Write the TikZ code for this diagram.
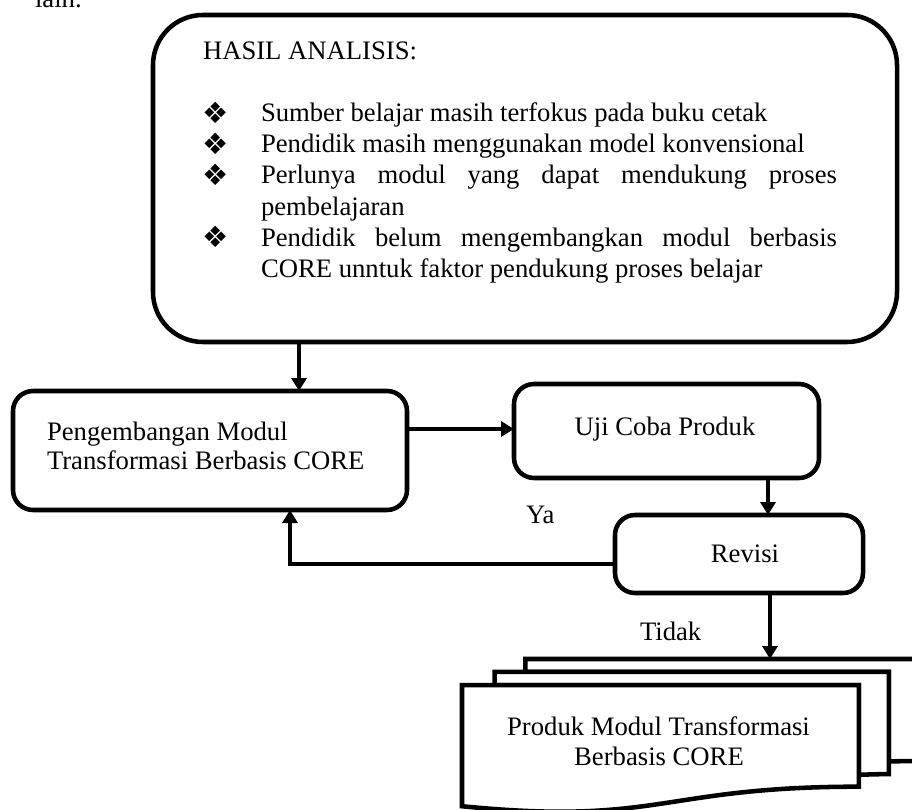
\documentclass[tikz,border=0pt]{standalone}
\usepackage{fontspec}
\setmainfont{Liberation Serif}
\newfontfamily\djv{DejaVu Sans}
\usetikzlibrary{arrows.meta}
\begin{document}
\begin{tikzpicture}[x=0.75pt,y=-0.75pt,
  box/.style={draw, line width=3.4pt, rounded corners=15pt, outer sep=0pt, inner sep=0pt, fill=white},
  txt/.style={font=\fontsize{20}{23}\selectfont, inner sep=0pt, outer sep=0pt},
  bul/.style={font=\djv\fontsize{22}{22}\selectfont, inner sep=0pt, outer sep=0pt, anchor=center},
  arr/.style={line width=3pt, -{Triangle[length=9.75pt,width=11.25pt]}},
  doc/.style={draw, line width=3.4pt, fill=white, line join=miter}]
\clip (0,0) rectangle (912,809);
\fill[white] (0,0) rectangle (912,809);

\node[txt, anchor=base west] (lain) at (35,8) {lain.};

% big analysis box
\node[box, rounded corners=37.5pt, minimum width=558pt, minimum height=245.25pt] (big) at (525,178.5) {};
\node[txt, anchor=base west] (head) at (203,60) {HASIL ANALISIS:};
\node[bul] (b1) at (216,113) {❖};
\node[bul] (b2) at (216,144) {❖};
\node[bul] (b3) at (216,175) {❖};
\node[bul] (b4) at (216,237) {❖};
\node[txt, anchor=base west] (l1) at (261,122) {Sumber belajar masih terfokus pada buku cetak};
\node[txt, anchor=base west] (l2) at (261,153) {Pendidik masih menggunakan model konvensional};
\node[txt, anchor=base west] (l3) at (261,184) {\makebox[432pt][s]{Perlunya modul yang dapat mendukung proses}};
\node[txt, anchor=base west] (l4) at (261,215) {pembelajaran};
\node[txt, anchor=base west] (l5) at (261,246) {\makebox[432pt][s]{Pendidik belum mengembangkan modul berbasis}};
\node[txt, anchor=base west] (l6) at (261,277) {CORE unntuk faktor pendukung proses belajar};

% process boxes
\node[box, minimum width=295.5pt, minimum height=89.25pt] (pk) at (210,450.5) {};
\node[txt, anchor=base west] (pk1) at (47,440) {Pengembangan Modul};
\node[txt, anchor=base west] (pk2) at (47,469) {Transformasi Berbasis CORE};

\node[box, minimum width=228.75pt, minimum height=70.5pt] (uji) at (666.5,431) {};
\node[txt, anchor=base] (ujit) at (665,435) {Uji Coba Produk};

\node[box, minimum width=186pt, minimum height=58.5pt] (rev) at (739,554) {};
\node[txt, anchor=base] (revt) at (745,562) {Revisi};

\node[txt, anchor=base west] (ya) at (526,523) {Ya};
\node[txt, anchor=base west] (tidak) at (640,640) {Tidak};

% multidocument
\begin{scope}[shift={(462,659)}, x=0.160069pt, y=-0.053125pt]
 \draw[doc] (297.2,181.5) -- (297.2,0) -- (2160,0) -- (2160,1439.2) .. controls (2080,1439.2) and (2000,1446.7) .. (2000,1446.7) -- (2000,181.5) -- cycle;
 \draw[doc] (153.2,367.5) -- (153.2,181.5) -- (2000,181.5) -- (2000,1625.2) .. controls (1929.8,1625.2) and (1859.5,1635.2) .. (1859.5,1635.2) -- (1859.5,367.5) -- cycle;
 \draw[doc] (0,367.5) -- (1859.5,367.5) -- (1859.5,1802.2) .. controls (929.8,1802.2) and (929.8,2354.2) .. (0,2078.2) -- cycle;
\end{scope}
\node[txt, anchor=base] (md1) at (658.5,735) {Produk Modul Transformasi};
\node[txt, anchor=base] (md2) at (659,765) {Berbasis CORE};
\coordinate (mdtop) at (770,659);

% connectors
\coordinate (c1) at (299,0);
\coordinate (c2) at (0,429);
\coordinate (c3) at (768,0);
\coordinate (c4) at (290,564);
\draw[arr] (big.south -| c1) -- (pk.north -| c1);
\draw[arr] (pk.east |- c2) -- (uji.west |- c2);
\draw[arr] (uji.south -| c3) -- (rev.north -| c3);
\draw[arr] (rev.west |- c4) -| (pk.south -| c4);
\draw[arr] (rev.south -| mdtop) -- (mdtop);
\end{tikzpicture}
\end{document}
